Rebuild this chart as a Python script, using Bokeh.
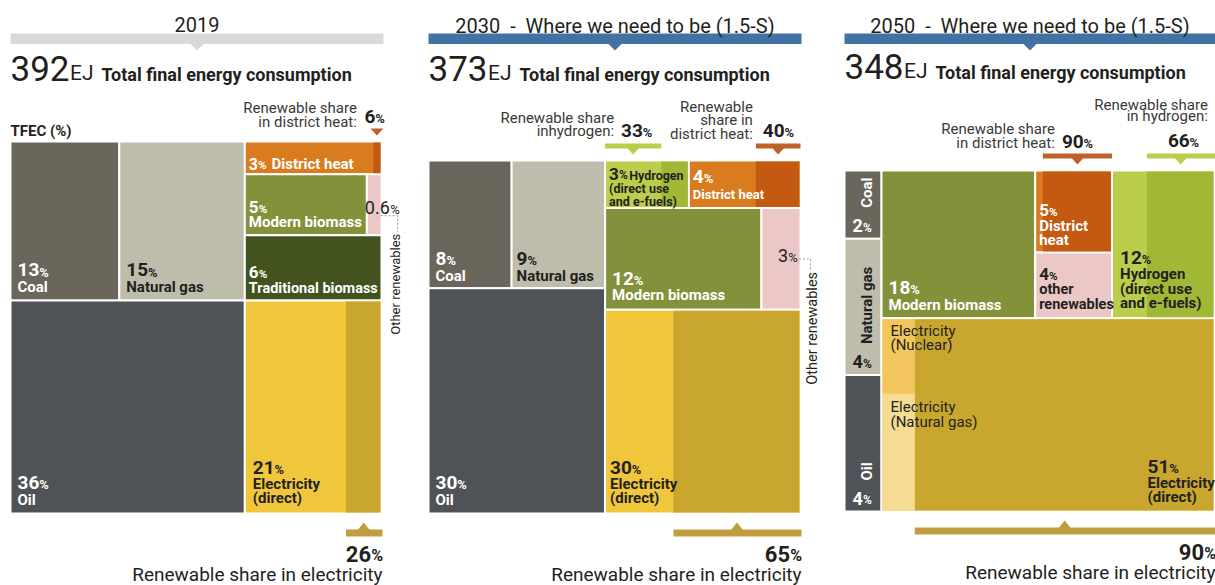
import math
from collections import defaultdict
from bokeh.plotting import figure
from bokeh.models import Range1d, ColumnDataSource
from bokeh.core.properties import value
from bokeh.embed import file_html
from bokeh.resources import INLINE

# ---------------- data ----------------
years = ["2019", "2030", "2050"]
titles = ["2019", "2030 \u00a0-\u00a0 Where we need to be (1.5-S)", "2050 \u00a0-\u00a0 Where we need to be (1.5-S)"]
tfec_ej = [392, 373, 348]
coal = [13, 8, 2]
natural_gas = [15, 9, 4]
oil = [36, 30, 4]
district_heat = [3, 4, 5]
modern_biomass = [5, 12, 18]
traditional_biomass = [6, 0, 0]
other_renewables = [0.6, 3, 4]
hydrogen = [0, 3, 12]
electricity = [21, 30, 51]
ren_share_electricity = [26, 65, 90]
ren_share_district_heat = [6, 40, 90]
ren_share_hydrogen = [0, 33, 66]
nonren_elec_sources_2050 = ["Nuclear", "Natural gas"]
nonren_elec_split_2050 = [0.39, 0.61]   # estimated share of the non-renewable strip

# ---------------- styling / layout ----------------
X0, X1, Y0, Y1 = 0, 1215, 0, 585
W_PX, H_PX = 1215, 585
SX = W_PX / (X1 - X0)
FONT = "Roboto"
BASE_SHIFT = 0.35          # text anchor correction (em) so y is the alphabetic baseline
DARK = "#231f20"
ANN = "#3a3a3a"
WHITE = "#ffffff"
C = dict(coal="#6b665b", natural_gas="#bebdab", oil="#4f5357",
         heat_nonren="#d97c20", heat_ren="#c45a12",
         modern_biomass="#83913b", traditional_biomass="#43531f",
         other_renewables="#ebc7c5",
         h2_nonren="#bccd4b", h2_ren="#a1b736",
         elec_nonren="#f0c73a", elec_ren="#c9a72e",
         nuclear="#f3c65d", natgas_elec="#f6dc92",
         hdr_gray="#d9d9d9", hdr_blue="#4272a3",
         bar_heat="#c0612a", bar_h2="#bccd4b", bar_elec="#bf9d40")
boxes = [(10, 141, 381, 513), (428, 160, 800, 513), (844, 170, 1214, 511)]
header_spans = [(10, 383), (428, 801), (844, 1215)]
header_colors = [C["hdr_gray"], C["hdr_blue"], C["hdr_blue"]]
title_base = [31, 32, 32]
big_base = [80, 80, 78]

p = figure(width=W_PX, height=H_PX, x_range=Range1d(X0, X1), y_range=Range1d(Y1, Y0),
           output_backend="svg", toolbar_location=None, min_border=0,
           x_axis_type=None, y_axis_type=None)
p.grid.visible = False
p.outline_line_color = None
p.background_fill_color = "white"
p.border_fill_color = "white"

texts = []
base = dict(left=[], right=[], top=[], bottom=[], color=[])
over = dict(left=[], right=[], top=[], bottom=[], color=[])
tris = dict(xs=[], ys=[], color=[])
dashes = []


def T(x, y, s, size, color, bold=True, align="left", angle=0.0):
    if angle == 0.0:
        y = y - BASE_SHIFT * size
    else:
        x = x - BASE_SHIFT * size
    texts.append((x, y, s, f"{size}px", color, "bold" if bold else "normal", align, angle))


def wtxt(s, size):
    w = 0.0
    for ch in s:
        if ch.isdigit():
            w += 0.5615
        elif ch == ".":
            w += 0.27
        elif ch == "%":
            w += 0.73
        else:
            w += 0.55
    return w * size / SX


def fmt(v):
    return f"{v:g}"


def pct(x, y, num, nsize, psize, color, bold=True, align="left"):
    s = fmt(num)
    if align == "left":
        T(x, y, s, nsize, color, bold)
        xe = x + wtxt(s, nsize) + 0.3
        T(xe, y, "%", psize, color, bold)
        return xe + wtxt("%", psize)
    T(x, y, "%", psize, color, bold, "right")
    T(x - wtxt("%", psize) - 0.3, y, s, nsize, color, bold, "right")
    return x


def rect(d, r, color):
    x0, y0, x1, y1 = r
    d["left"].append(x0); d["right"].append(x1)
    d["top"].append(y0); d["bottom"].append(y1); d["color"].append(color)


def ren_part(r, share):
    x0, y0, x1, y1 = r
    return (x1 - (x1 - x0) * share / 100.0, y0 + 1, x1 - 1, y1 - 1)


def nonren_part(r, share):
    x0, y0, x1, y1 = r
    return (x0 + 1, y0 + 1, x0 + (x1 - x0) * (1 - share / 100.0), y1 - 1)


def tri(cx, ybase, ytip, half, color):
    tris["xs"].append([cx - half, cx + half, cx])
    tris["ys"].append([ybase, ybase, ytip])
    tris["color"].append(color)


def block_label(r, num, lines, color, nsize=19, lsize=15, dx=7, dy=8, lh=14.5, ngap=16, xa=None):
    x0, y0, x1, y1 = r
    x = x0 + dx if xa is None else xa
    y = y1 - dy
    for ln in reversed(lines):
        T(x, y, ln, lsize, color, True)
        y -= lh
    y = y + lh - ngap
    pct(x, y, num, nsize, round(nsize * 0.68, 1), color)


# ---------------- layouts computed from the values ----------------
def layout_2019(i, box):
    x0, y0, x1, y1 = box
    W, H = x1 - x0, y1 - y0
    tot = (coal[i] + natural_gas[i] + oil[i] + district_heat[i] + modern_biomass[i]
           + other_renewables[i] + traditional_biomass[i] + electricity[i])
    bottom = oil[i] + electricity[i]
    ys = y1 - H * bottom / tot
    xs = x0 + W * oil[i] / bottom
    xc = x0 + (xs - x0) * coal[i] / (coal[i] + natural_gas[i])
    stack = district_heat[i] + modern_biomass[i] + other_renewables[i] + traditional_biomass[i]
    h = ys - y0
    ya = y0 + h * district_heat[i] / stack
    yb = ya + h * (modern_biomass[i] + other_renewables[i]) / stack
    xm = xs + (x1 - xs) * modern_biomass[i] / (modern_biomass[i] + other_renewables[i])
    return dict(coal=(x0, y0, xc, ys), natural_gas=(xc, y0, xs, ys), oil=(x0, ys, xs, y1),
                electricity=(xs, ys, x1, y1), district_heat=(xs, y0, x1, ya),
                modern_biomass=(xs, ya, xm, yb), other_renewables=(xm, ya, x1, yb),
                traditional_biomass=(xs, yb, x1, ys))


def layout_2030(i, box):
    x0, y0, x1, y1 = box
    W, H = x1 - x0, y1 - y0
    left = coal[i] + natural_gas[i] + oil[i]
    r1 = hydrogen[i] + district_heat[i]
    r2 = modern_biomass[i] + other_renewables[i]
    right = r1 + r2 + electricity[i]
    xs = x0 + W * left / (left + right)
    yl = y0 + H * (coal[i] + natural_gas[i]) / left
    xc = x0 + (xs - x0) * coal[i] / (coal[i] + natural_gas[i])
    ya = y0 + H * r1 / right
    yb = ya + H * r2 / right
    xh = xs + (x1 - xs) * hydrogen[i] / r1
    xm = xs + (x1 - xs) * modern_biomass[i] / r2
    return dict(coal=(x0, y0, xc, yl), natural_gas=(xc, y0, xs, yl), oil=(x0, yl, xs, y1),
                hydrogen=(xs, y0, xh, ya), district_heat=(xh, y0, x1, ya),
                modern_biomass=(xs, ya, xm, yb), other_renewables=(xm, ya, x1, yb),
                electricity=(xs, yb, x1, y1))


def layout_2050(i, box):
    x0, y0, x1, y1 = box
    W, H = x1 - x0, y1 - y0
    left = coal[i] + natural_gas[i] + oil[i]
    top = modern_biomass[i] + district_heat[i] + other_renewables[i] + hydrogen[i]
    right = top + electricity[i]
    xs = x0 + W * left / (left + right)
    yc = y0 + H * coal[i] / left
    yg = yc + H * natural_gas[i] / left
    yt = y0 + H * top / right
    Wr = x1 - xs
    xm = xs + Wr * modern_biomass[i] / top
    xh = xm + Wr * (district_heat[i] + other_renewables[i]) / top
    yh = y0 + (yt - y0) * district_heat[i] / (district_heat[i] + other_renewables[i])
    return dict(coal=(x0, y0, xs, yc), natural_gas=(x0, yc, xs, yg), oil=(x0, yg, xs, y1),
                modern_biomass=(xs, y0, xm, yt), district_heat=(xm, y0, xh, yh),
                other_renewables=(xm, yh, xh, yt), hydrogen=(xh, y0, x1, yt),
                electricity=(xs, yt, x1, y1))


# ---------------- headers ----------------
for i in range(3):
    hx0, hx1 = header_spans[i]
    cx = (hx0 + hx1) / 2
    T(cx, title_base[i], titles[i], 20, DARK, False, "center")
    rect(over, (hx0, 33, hx1, 43.5), header_colors[i])
    tri(cx, 43, 50, 7, header_colors[i])
    bx = hx0
    T(bx, big_base[i], fmt(tfec_ej[i]), 35, DARK, False)
    xe = bx + wtxt(fmt(tfec_ej[i]), 35) + 0.5
    T(xe, big_base[i], "EJ", 21, DARK, False)
    xt = xe + (0.568 + 0.552) * 21 / SX + 8
    T(xt, big_base[i], "Total final energy consumption", 18, DARK, True)

T(10, 136, "TFEC (%)", 15, DARK, True)

# ---------------- 2019 ----------------
i = 0
r = layout_2019(i, boxes[i])
for k, col in [("coal", C["coal"]), ("natural_gas", C["natural_gas"]), ("oil", C["oil"]),
               ("district_heat", C["heat_nonren"]), ("modern_biomass", C["modern_biomass"]),
               ("other_renewables", C["other_renewables"]),
               ("traditional_biomass", C["traditional_biomass"]), ("electricity", C["elec_nonren"])]:
    rect(base, r[k], col)
rh = ren_part(r["district_heat"], ren_share_district_heat[i])
rect(over, rh, C["heat_ren"])
re_ = ren_part(r["electricity"], ren_share_electricity[i])
rect(over, re_, C["elec_ren"])

block_label(r["coal"], coal[i], ["Coal"], WHITE)
block_label(r["natural_gas"], natural_gas[i], ["Natural gas"], DARK)
block_label(r["oil"], oil[i], ["Oil"], WHITE)
block_label(r["electricity"], electricity[i], ["Electricity", "(direct)"], DARK, dx=8, dy=10, lh=14, ngap=15)
hx0, hy0, hx1, hy1 = r["district_heat"]
xe = pct(hx0 + 4, hy1 - 5, district_heat[i], 16, 11.5, WHITE)
T(xe + 5, hy1 - 5, "District heat", 15, WHITE)
block_label(r["modern_biomass"], modern_biomass[i], ["Modern biomass"], WHITE, nsize=17, dx=4, ngap=14)
block_label(r["traditional_biomass"], traditional_biomass[i], ["Traditional biomass"], WHITE, nsize=17,
            lsize=14.5, dx=4, dy=7)
ox0, oy0, ox1, oy1 = r["other_renewables"]
ob = (oy0 + oy1) / 2 + 9
pct(ox0 - 2, ob, other_renewables[i], 18, 13, DARK, bold=False)
dashes.append(([ox1 - 1, ox1 + 16, ox1 + 16], [ob + 2, ob + 2, ob + 18]))
T(ox1 + 19, ob + 20, "Other renewables", 13, DARK, False, "right", math.pi / 2)
# heat annotation
cx = (rh[0] + rh[2]) / 2
top = boxes[i][1]
tri(cx, top - 13, top - 6, 6.5, C["bar_heat"])
T(cx - 20, top - 28, "Renewable share", 15, ANN, False, "right")
T(cx - 20, top - 14, "in district heat:", 15, ANN, False, "right")
pct(cx - 12.5, top - 18, ren_share_district_heat[i], 19, 13, DARK)

# ---------------- 2030 ----------------
i = 1
r = layout_2030(i, boxes[i])
for k, col in [("coal", C["coal"]), ("natural_gas", C["natural_gas"]), ("oil", C["oil"]),
               ("hydrogen", C["h2_nonren"]), ("district_heat", C["heat_nonren"]),
               ("modern_biomass", C["modern_biomass"]), ("other_renewables", C["other_renewables"]),
               ("electricity", C["elec_nonren"])]:
    rect(base, r[k], col)
rhy = ren_part(r["hydrogen"], ren_share_hydrogen[i])
rect(over, rhy, C["h2_ren"])
rh = ren_part(r["district_heat"], ren_share_district_heat[i])
rect(over, rh, C["heat_ren"])
re_ = ren_part(r["electricity"], ren_share_electricity[i])
rect(over, re_, C["elec_ren"])

block_label(r["coal"], coal[i], ["Coal"], WHITE, dy=7)
block_label(r["natural_gas"], natural_gas[i], ["Natural gas"], DARK, dx=5, dy=7)
block_label(r["oil"], oil[i], ["Oil"], WHITE)
block_label(r["modern_biomass"], modern_biomass[i], ["Modern biomass"], WHITE, dx=7, dy=10, ngap=15)
block_label(r["electricity"], electricity[i], ["Electricity", "(direct)"], DARK, dx=5, dy=10, lh=14, ngap=15)
hx0, hy0, hx1, hy1 = r["hydrogen"]
xe = pct(hx0 + 4, hy0 + 19, hydrogen[i], 17, 12, DARK)
T(xe + 1.5, hy0 + 19, "Hydrogen", 12.5, DARK)
T(hx0 + 4, hy0 + 32, "(direct use", 12.5, DARK)
T(hx0 + 4, hy0 + 45, "and e-fuels)", 12.5, DARK)
dx0, dy0, dx1, dy1 = r["district_heat"]
pct(dx0 + 4, dy0 + 23, district_heat[i], 19, 13, WHITE)
T(dx0 + 4, dy0 + 39, "District heat", 13, WHITE)
ox0, oy0, ox1, oy1 = r["other_renewables"]
ob = (oy0 + oy1) / 2 + 3
s3 = fmt(other_renewables[i])
xe = pct(ox1 - 3 - wtxt(s3, 18) - wtxt("%", 13), ob, other_renewables[i], 18, 13, DARK, bold=False)
dashes.append(([xe + 1, ox1 + 10, ox1 + 10], [ob - 3, ob - 3, ob + 9]))
T(ox1 + 17, ob + 10, "Other renewables", 14.5, DARK, False, "right", math.pi / 2)
# hydrogen annotation (bar over the left part)
top = boxes[i][1]
bh = nonren_part(r["hydrogen"], ren_share_hydrogen[i])
rect(over, (bh[0] - 1, top - 17, bh[2], top - 12), C["bar_h2"])
tri((bh[0] - 1 + bh[2]) / 2, top - 12.5, top - 6, 6, C["bar_h2"])
T(bh[0] + 8, top - 37, "Renewable share", 15, ANN, False, "right")
T(bh[0] + 8, top - 24, "inhydrogen:", 15, ANN, False, "right")
pct(bh[0] + 15, top - 23, ren_share_hydrogen[i], 19, 13, DARK)
# heat annotation
rect(over, (rh[0], top - 17, rh[2] + 1, top - 12), C["bar_heat"])
tri((rh[0] + rh[2] + 1) / 2, top - 12.5, top - 6, 6, C["bar_heat"])
T(rh[0] - 3, top - 48, "Renewable", 15, ANN, False, "right")
T(rh[0] - 3, top - 35, "share in", 15, ANN, False, "right")
T(rh[0] - 3, top - 21, "district heat:", 15, ANN, False, "right")
pct(rh[0] + 7, top - 23, ren_share_district_heat[i], 19, 13, DARK)

# ---------------- 2050 ----------------
i = 2
r = layout_2050(i, boxes[i])
for k, col in [("coal", C["coal"]), ("natural_gas", C["natural_gas"]), ("oil", C["oil"]),
               ("modern_biomass", C["modern_biomass"]), ("district_heat", C["heat_nonren"]),
               ("other_renewables", C["other_renewables"]), ("hydrogen", C["h2_nonren"]),
               ("electricity", C["elec_nonren"])]:
    rect(base, r[k], col)
rh = ren_part(r["district_heat"], ren_share_district_heat[i])
rect(over, rh, C["heat_ren"])
rhy = ren_part(r["hydrogen"], ren_share_hydrogen[i])
rect(over, rhy, C["h2_ren"])
re_ = ren_part(r["electricity"], ren_share_electricity[i])
rect(over, re_, C["elec_ren"])
nr = nonren_part(r["electricity"], ren_share_electricity[i])
ys_split = nr[1] + (nr[3] - nr[1]) * nonren_elec_split_2050[0]
rect(over, (nr[0], nr[1], nr[2], ys_split), C["nuclear"])
rect(over, (nr[0], ys_split, nr[2], nr[3]), C["natgas_elec"])

for k, lab, col in [("coal", "Coal", WHITE), ("natural_gas", "Natural gas", DARK), ("oil", "Oil", WHITE)]:
    x0_, y0_, x1_, y1_ = r[k]
    vals = {"coal": coal, "natural_gas": natural_gas, "oil": oil}[k]
    T(x0_ + 28, y1_ - 31, lab, 15, col, True, "left", math.pi / 2)
    pct(x0_ + 8, y1_ - 7, vals[i], 18, 12, col)
block_label(r["modern_biomass"], modern_biomass[i], ["Modern biomass"], WHITE, dx=7)
block_label(r["district_heat"], district_heat[i], ["District", "heat"], WHITE, nsize=17, dx=4, dy=7, ngap=15)
block_label(r["other_renewables"], other_renewables[i], ["other", "renewables"], DARK, nsize=17, lsize=14.5,
            dx=4, dy=9, ngap=15)
block_label(r["hydrogen"], hydrogen[i], ["Hydrogen", "(direct use", "and e-fuels)"], DARK, dx=8, dy=10, ngap=15)
ex0, ey0, ex1, ey1 = r["electricity"]
block_label(r["electricity"], electricity[i], ["Electricity", "(direct)"], DARK, dy=9, lh=14, ngap=15, xa=ex1 - 67)
T(nr[0] + 8, nr[1] + 17, "Electricity", 15, DARK, False)
T(nr[0] + 8, nr[1] + 31, "(" + nonren_elec_sources_2050[0] + ")", 15, DARK, False)
T(nr[0] + 8, ys_split + 18, "Electricity", 15, DARK, False)
T(nr[0] + 8, ys_split + 33, "(" + nonren_elec_sources_2050[1] + ")", 15, DARK, False)
top = boxes[i][1]
# heat annotation
rect(over, (rh[0], top - 17, rh[2] + 1, top - 12), C["bar_heat"])
tri((rh[0] + rh[2] + 1) / 2, top - 12.5, top - 6, 6, C["bar_heat"])
T(rh[0] + 12, top - 36, "Renewable share", 15, ANN, False, "right")
T(rh[0] + 12, top - 22, "in district heat:", 15, ANN, False, "right")
pct(rh[0] + 19, top - 22, ren_share_district_heat[i], 19, 13, DARK)
# hydrogen annotation
rect(over, (rhy[0], top - 17, rhy[2] + 2, top - 12), C["bar_h2"])
tri((rhy[0] + rhy[2] + 1) / 2, top - 12.5, top - 6, 6, C["bar_h2"])
T(rhy[0] + 61, top - 60, "Renewable share", 15, ANN, False, "right")
T(rhy[0] + 61, top - 49, "in hydrogen:", 15, ANN, False, "right")
pct(rhy[0] + 21, top - 23, ren_share_hydrogen[i], 19, 13, DARK)

# ---------------- electricity renewable share (bottom) ----------------
for i, lay in enumerate([layout_2019, layout_2030, layout_2050]):
    r = lay(i, boxes[i])
    ex0, ey0, ex1, ey1 = r["electricity"]
    re_ = ren_part(r["electricity"], ren_share_electricity[i])
    bot = boxes[i][3]
    rect(over, (re_[0], bot + 16, ex1 + 1, bot + 23), C["bar_elec"])
    tri((re_[0] + ex1) / 2, bot + 16.5, bot + 9, 6, C["bar_elec"])
    pct(ex1 + 1.5, bot + 48, ren_share_electricity[i], 22, 16, DARK, align="right")
    T(ex1 + 1, bot + 68, "Renewable share in electricity", 19, DARK, False, "right")

# ---------------- render ----------------
p.quad(left="left", right="right", top="top", bottom="bottom", fill_color="color",
       line_color="white", line_width=2, source=ColumnDataSource(base))
p.quad(left="left", right="right", top="top", bottom="bottom", fill_color="color",
       line_color=None, source=ColumnDataSource(over))
p.patches(xs="xs", ys="ys", fill_color="color", line_color=None, source=ColumnDataSource(tris))
for xs, ys in dashes:
    p.line(xs, ys, line_color="#9a9a9a", line_width=1, line_dash="2 2")

groups = defaultdict(lambda: dict(x=[], y=[], text=[], size=[], color=[]))
for (x, y, s, size, color, style, align, angle) in texts:
    g = groups[(style, align, angle)]
    g["x"].append(x); g["y"].append(y); g["text"].append(s)
    g["size"].append(size); g["color"].append(color)
for (style, align, angle), d in groups.items():
    p.text(x="x", y="y", text="text", source=ColumnDataSource(d), text_font=value(FONT),
           text_font_size="size", text_color="color", text_font_style=style,
           text_align=align, text_baseline="alphabetic", angle=angle)

open("out.html", "w").write(file_html(p, INLINE))
